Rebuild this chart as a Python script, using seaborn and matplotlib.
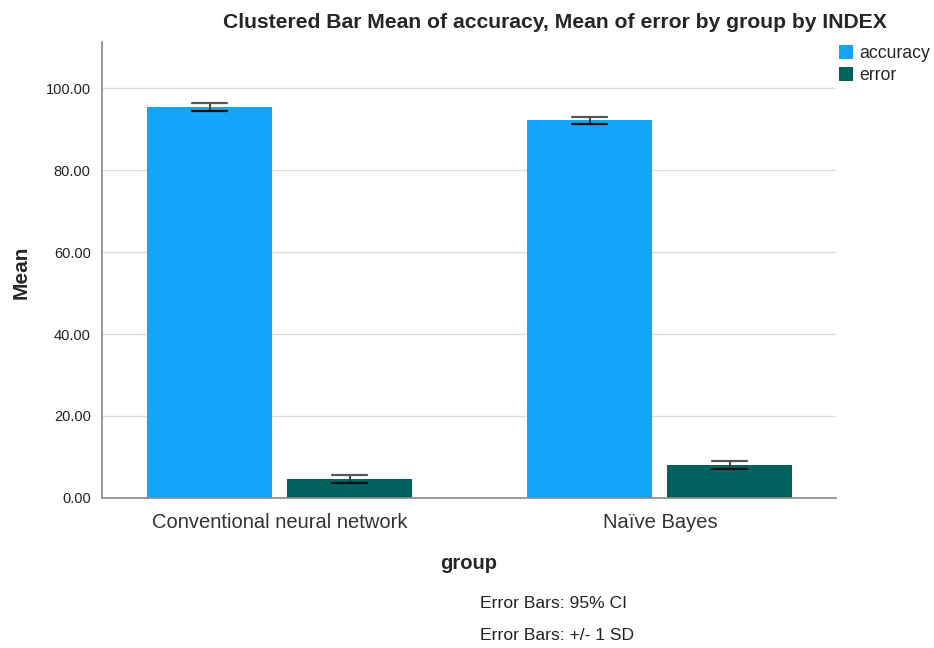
import matplotlib
matplotlib.use("Agg")
import matplotlib.pyplot as plt
import seaborn as sns
import pandas as pd
from matplotlib.patches import Patch

groups = ["Conventional neural network", "Naïve Bayes"]
measures = ["accuracy", "error"]
accuracy_mean = [95.3, 92.1]
error_mean = [4.7, 8.0]
accuracy_err = [1.0, 0.95]
error_err = [1.0, 0.95]
yticks = [0, 20, 40, 60, 80, 100]
colors = ["#14a4f9", "#00625e"]

df = pd.DataFrame({
    "group": groups * 2,
    "measure": ["accuracy"] * len(groups) + ["error"] * len(groups),
    "value": accuracy_mean + error_mean,
})

sns.set_style("white")
plt.rcParams["font.family"] = ["Liberation Sans", "DejaVu Sans"]

fig = plt.figure(figsize=(9.34, 6.48), dpi=100)
ax = fig.add_axes([0.109, 0.2315, 0.786, 0.7035])

sns.barplot(data=df, x="group", y="value", hue="measure", order=groups,
            hue_order=measures, palette=colors, errorbar=None, width=0.737,
            saturation=1, legend=False, ax=ax)

errs = {"accuracy": accuracy_err, "error": error_err}
means = {"accuracy": accuracy_mean, "error": error_mean}
patches = list(ax.patches)
for k, m in enumerate(measures):
    for j in range(len(groups)):
        p = patches[k * len(groups) + j]
        w = p.get_width()
        new_w = 0.329
        cx = p.get_x() + w / 2
        p.set_width(new_w)
        p.set_x(cx - new_w / 2)
        p.set_edgecolor("none")
        h = means[m][j]
        e = errs[m][j]
        capw = 0.046
        ax.plot([cx, cx], [h - e, h + e], color="#333333", lw=1.3, zorder=4)
        ax.plot([cx - capw, cx + capw], [h + e, h + e], color="#555555", lw=1.6, zorder=4)
        ax.plot([cx - capw, cx + capw], [h - e, h - e], color="#111111", lw=1.6, zorder=4)

ax.set_xlim(-0.468, 1.463)
ax.set_ylim(0, 111.2)
ax.set_yticks(yticks)
ax.set_yticklabels([f"{v:.2f}" for v in yticks], fontsize=10.5, color="#222222")
ax.tick_params(axis="x", labelsize=14.5, labelcolor="#333333", length=0, pad=11)
ax.tick_params(axis="y", length=0, pad=8)
ax.grid(axis="y", color="#dddddd", lw=1)
ax.set_axisbelow(True)
for s in ["top", "right"]:
    ax.spines[s].set_visible(False)
for s in ["left", "bottom"]:
    ax.spines[s].set_color("#888888")
    ax.spines[s].set_linewidth(1.2)

ax.set_xlabel("group", fontsize=14.5, fontweight="bold", labelpad=16)
ax.set_ylabel("Mean", fontsize=15, fontweight="bold")
ax.yaxis.set_label_coords((31 - 102) / 734, (498 - 272) / 456)

fig.text(555 / 934, 1 - 22 / 648, "Clustered Bar Mean of accuracy, Mean of error by group by INDEX",
         ha="center", va="center", fontsize=15.2, fontweight="bold")

handles = [Patch(facecolor=c, edgecolor="none") for c in colors]
fig.legend(handles, measures, loc="upper left", bbox_to_anchor=(839 / 934, 1 - 45 / 648),
           frameon=False, fontsize=12.7, handlelength=0.8, handleheight=0.8,
           handletextpad=0.35, labelspacing=0.3, borderaxespad=0, borderpad=0)

fig.text(480 / 934, 1 - 603 / 648, "Error Bars: 95% CI", ha="left", va="center", fontsize=12.6, color="#222222")
fig.text(480 / 934, 1 - 636 / 648, "Error Bars: +/- 1 SD", ha="left", va="center", fontsize=12.6, color="#222222")

fig.savefig("out.png", dpi=100)
